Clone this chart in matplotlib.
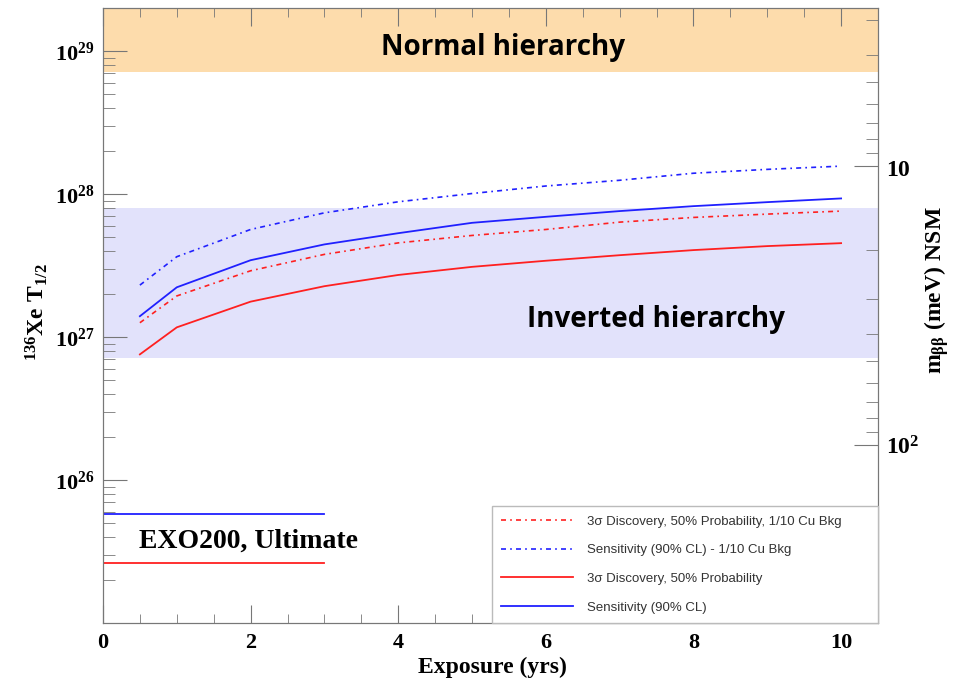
import numpy as np
import matplotlib
matplotlib.use('Agg')
import matplotlib.pyplot as plt
from matplotlib.ticker import MultipleLocator, LogLocator, NullFormatter

# bold Times-like math for all the axis numbers
plt.rcParams['mathtext.fontset'] = 'custom'
plt.rcParams['mathtext.rm'] = 'Liberation Serif:bold'
plt.rcParams['mathtext.it'] = 'Liberation Serif:bold'
plt.rcParams['mathtext.bf'] = 'Liberation Serif:bold'

# data
exposure = [0.5, 1, 2, 3, 4, 5, 6, 7, 8, 9, 10]
disc_cu = [1.26e27, 1.94e27, 2.91e27, 3.79e27, 4.56e27, 5.14e27, 5.66e27, 6.37e27, 6.87e27, 7.25e27, 7.61e27]
sens_cu = [2.31e27, 3.65e27, 5.66e27, 7.40e27, 8.84e27, 1.01e28, 1.14e28, 1.25e28, 1.40e28, 1.49e28, 1.57e28]
disc = [7.57e26, 1.17e27, 1.77e27, 2.27e27, 2.72e27, 3.10e27, 3.42e27, 3.74e27, 4.06e27, 4.33e27, 4.54e27]
sens = [1.40e27, 2.23e27, 3.45e27, 4.45e27, 5.33e27, 6.30e27, 6.94e27, 7.61e27, 8.24e27, 8.79e27, 9.33e27]

labels = ['3\u03c3 Discovery, 50% Probability, 1/10 Cu Bkg',
          'Sensitivity (90% CL) - 1/10 Cu Bkg',
          '3\u03c3 Discovery, 50% Probability',
          'Sensitivity (90% CL)']

exo_x = [0, 3]
exo_sens = [5.78e25, 5.78e25]
exo_disc = [2.63e25, 2.63e25]

normal_band = (7.1e28, 3e29)
inverted_band = (7.1e26, 8.0e27)

xticks = [0, 2, 4, 6, 8, 10]
yticks = [1e26, 1e27, 1e28, 1e29]
yticklabels = [r'$10^{26}$', r'$10^{27}$', r'$10^{28}$', r'$10^{29}$']
mticks = [10, 100]
mticklabels = [r'$10$', r'$10^{2}$']

ylo, yhi = 1e25, 2e29


def t_to_m(t):
    # right-hand m_bb scale as it sits on the reference
    return 10 ** (1 + 0.5125 * (28.196 - np.log10(t)))


fig = plt.figure(figsize=(9.58, 6.78), dpi=100)
ax = fig.add_axes([0.1075, 0.0811, 0.809, 0.9069])
ax.set_yscale('log')
ax.set_xlim(0, 10.5)
ax.set_ylim(ylo, yhi)

ax.axhspan(*normal_band, color='#fddcac', lw=0, zorder=0)
ax.axhspan(*inverted_band, color='#e2e2fb', lw=0, zorder=0)

dd = (0, (3, 2.5, 1, 2.5))
red, blue = '#ff2020', '#2020ff'
h1, = ax.plot(exposure, disc_cu, color=red, ls=dd, lw=1.2)
h2, = ax.plot(exposure, sens_cu, color=blue, ls=dd, lw=1.2)
h3, = ax.plot(exposure, disc, color=red, lw=1.3)
h4, = ax.plot(exposure, sens, color=blue, lw=1.3)
ax.plot(exo_x, exo_sens, color=blue, lw=1.3)
ax.plot(exo_x, exo_disc, color=red, lw=1.3)

# ticks
ax.set_xticks(xticks, labels=[str(v) for v in xticks], fontsize=16,
              fontweight='bold', family='Liberation Serif')
ax.xaxis.set_minor_locator(MultipleLocator(0.5))
ax.tick_params(axis='x', which='both', direction='in', top=True, bottom=True,
               color='#777777', pad=7)
ax.tick_params(axis='x', which='major', length=13)
ax.tick_params(axis='x', which='minor', length=6.5)

ax.set_yticks(yticks, labels=yticklabels, fontsize=16)
ax.yaxis.set_minor_locator(LogLocator(base=10, subs=np.arange(2, 10)))
ax.yaxis.set_minor_formatter(NullFormatter())
ax.tick_params(axis='y', which='both', direction='in', left=True, right=False,
               color='#777777', pad=6)
ax.tick_params(axis='y', which='major', length=17)
ax.tick_params(axis='y', which='minor', length=8.5)
for s in ax.spines.values():
    s.set_color('#777777')

# right axis in m_bb
ax2 = ax.twinx()
ax2.set_yscale('log')
ax2.set_ylim(t_to_m(ylo), t_to_m(yhi))
ax2.set_yticks(mticks, labels=mticklabels, fontsize=17)
ax2.yaxis.set_minor_locator(LogLocator(base=10, subs=np.arange(2, 10)))
ax2.yaxis.set_minor_formatter(NullFormatter())
ax2.tick_params(axis='y', which='both', direction='in', color='#777777', pad=6)
ax2.tick_params(axis='y', which='major', length=17)
ax2.tick_params(axis='y', which='minor', length=8.5)
for s in ax2.spines.values():
    s.set_color('#777777')

# labels
ax.text(-0.085, 0.506, r'$^{136}\mathrm{Xe\ T}_{1/2}$', rotation=90,
        transform=ax.transAxes, ha='center', va='center', fontsize=17)
ax2.text(1.0755, 0.541, r'$\mathrm{m}_{\beta\beta}\ \mathrm{(meV)\ NSM}$', rotation=90,
         transform=ax2.transAxes, ha='center', va='center', fontsize=17)
ax.text(0.502, -0.073, 'Exposure (yrs)', transform=ax.transAxes, ha='center',
        va='center', fontsize=17, fontweight='bold', family='Liberation Serif')

ax.text(0.516, 0.936, 'Normal hierarchy', transform=ax.transAxes, ha='center',
        va='center', fontsize=20, fontweight='bold', family='Open Sans')
ax.text(0.713, 0.493, 'Inverted hierarchy', transform=ax.transAxes, ha='center',
        va='center', fontsize=20, fontweight='bold', family='Open Sans')
ax.text(0.188, 0.133, 'EXO200, Ultimate', transform=ax.transAxes, ha='center',
        va='center', fontsize=20, fontweight='bold', family='Liberation Serif')

leg = ax2.legend([h1, h2, h3, h4], labels, loc='lower left',
                 bbox_to_anchor=(0.502, 0.0, 0.498, 0.187), mode='expand',
                 borderaxespad=0, fancybox=False, framealpha=1,
                 edgecolor='#bbbbbb', handlelength=5.4, handletextpad=1.1,
                 labelspacing=1.25, borderpad=0.7,
                 prop={'family': 'Liberation Sans', 'size': 9.5})
leg.get_frame().set_linewidth(1)
for t in leg.get_texts():
    t.set_color('#333333')

fig.savefig('out.png', dpi=100)
